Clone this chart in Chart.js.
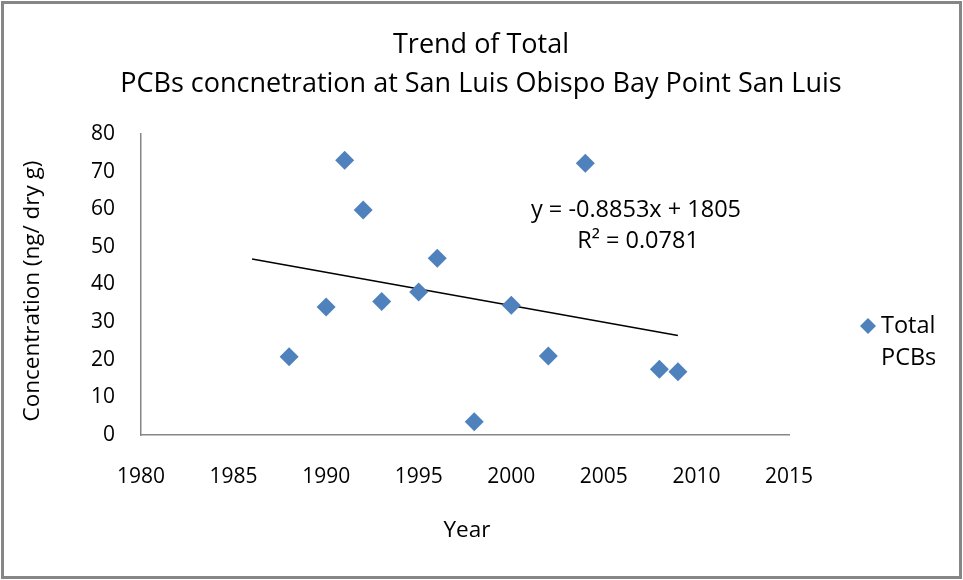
<!DOCTYPE html>
<html>
<head>
<meta charset="utf-8">
<script src="https://cdn.jsdelivr.net/npm/chart.js@4.4.1/dist/chart.umd.min.js"></script>
<style>
  html, body { margin: 0; padding: 0; background: #fff; }
  #wrap { width: 963px; height: 580px; position: relative; }
</style>
</head>
<body>
<div id="wrap"><canvas id="chart" width="963" height="580"></canvas></div>
<script>
// Data
const years = [1988, 1990, 1991, 1992, 1993, 1995, 1996, 1998, 2000, 2002, 2004, 2008, 2009];
const pcbValues = [20.8, 34, 73, 59.8, 35.5, 38, 47, 3.5, 34.5, 21, 72.2, 17.5, 16.8];
const xTicks = [1980, 1985, 1990, 1995, 2000, 2005, 2010, 2015];
const yTicks = [0, 10, 20, 30, 40, 50, 60, 70, 80];
const trendSlope = -0.8853;
const trendIntercept = 1805;
const trendRange = [1986, 2009];

const FONT = "'Open Sans', sans-serif";
const BLUE = '#4F81BD';
const AXIS = '#868686';

const points = years.map((x, i) => ({ x: x, y: pcbValues[i] }));
const trendPts = trendRange.map(x => ({ x: x, y: trendSlope * x + trendIntercept }));

// titles, legend, equation, outer border
const decorations = {
  id: 'decorations',
  afterDraw(chart) {
    const ctx = chart.ctx;
    ctx.save();
    ctx.fillStyle = '#000';
    ctx.textAlign = 'center';
    ctx.textBaseline = 'middle';

    ctx.font = '27px ' + FONT;
    ctx.fillText('Trend of Total', 481, 45);
    ctx.fillText('PCBs concnetration at San Luis Obispo Bay Point San Luis', 481, 84);

    ctx.font = '23.5px ' + FONT;
    ctx.fillText('y = -0.8853x + 1805', 636, 210);
    ctx.fillText('R² = 0.0781', 638, 241);

    ctx.font = '22.5px ' + FONT;
    ctx.fillText('Year', 467, 531);

    ctx.save();
    ctx.translate(33, 291);
    ctx.rotate(-Math.PI / 2);
    ctx.fillText('Concentration (ng/ dry g)', 0, 0);
    ctx.restore();

    // legend
    ctx.fillStyle = BLUE;
    ctx.beginPath();
    ctx.moveTo(868, 318); ctx.lineTo(876, 326); ctx.lineTo(868, 334); ctx.lineTo(860, 326);
    ctx.closePath();
    ctx.fill();
    ctx.font = '23.5px ' + FONT;
    ctx.fillStyle = '#000';
    ctx.textAlign = 'left';
    ctx.fillText('Total', 881, 326);
    ctx.fillText('PCBs', 881, 358);

    // outer border
    ctx.strokeStyle = AXIS;
    ctx.lineWidth = 3;
    ctx.strokeRect(2.5, 2.5, 958, 575);
    ctx.restore();
  }
};

new Chart(document.getElementById('chart'), {
  type: 'scatter',
  data: {
    datasets: [
      {
        label: 'Total PCBs',
        data: points,
        pointStyle: 'rectRot',
        pointRadius: 9.5,
        pointHoverRadius: 9.5,
        backgroundColor: BLUE,
        borderColor: BLUE,
        borderWidth: 0,
        order: 1
      },
      {
        label: 'Trend',
        data: trendPts,
        type: 'line',
        showLine: true,
        borderColor: '#000',
        borderWidth: 1.5,
        pointRadius: 0,
        fill: false,
        order: 2
      }
    ]
  },
  options: {
    responsive: false,
    animation: false,
    devicePixelRatio: 1,
    layout: { padding: { top: 134, right: 174, left: 0, bottom: 0 } },
    plugins: {
      legend: { display: false },
      title: { display: false },
      tooltip: { enabled: false }
    },
    scales: {
      x: {
        type: 'linear',
        min: xTicks[0],
        max: xTicks[xTicks.length - 1],
        afterBuildTicks: s => { s.ticks = xTicks.map(v => ({ value: v })); },
        afterFit: s => { s.height = 580 - 435; },
        grid: { display: false, drawTicks: false },
        border: { display: true, color: AXIS, width: 1.5 },
        ticks: { color: '#000', font: { family: FONT, size: 21 }, padding: 29, maxRotation: 0, callback: v => String(v) }
      },
      y: {
        min: yTicks[0],
        max: yTicks[yTicks.length - 1],
        afterBuildTicks: s => { s.ticks = yTicks.map(v => ({ value: v })); },
        afterFit: s => { s.width = 141; },
        grid: { display: false, drawTicks: false },
        border: { display: true, color: AXIS, width: 1.5 },
        ticks: { color: '#000', font: { family: FONT, size: 21 }, padding: 26 }
      }
    }
  },
  plugins: [decorations]
});
</script>
</body>
</html>
